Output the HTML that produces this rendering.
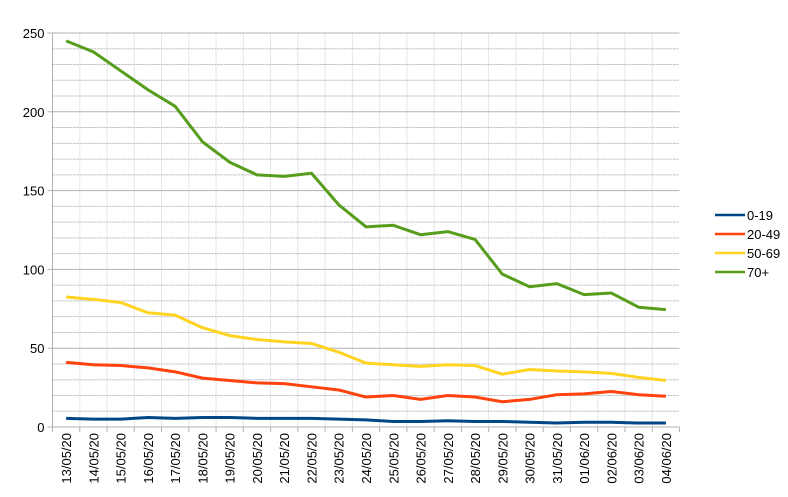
<!DOCTYPE html>
<html><head><meta charset="utf-8"><style>
body{margin:0;background:#fff;}
svg{display:block;font-family:"Liberation Sans",Arial,sans-serif;}
</style></head><body>
<svg id="s" width="788" height="497" xmlns="http://www.w3.org/2000/svg"></svg>
<script>
const s=document.getElementById('s');
const L=52.5,R=679.5,T=33,B=427,n=23,w=(R-L)/n;
const y=v=>B-v*(B-T)/250;
let h='';
for(let i=1;i<n;i++){const x=L+i*w;h+=`<line x1="${x}" y1="${T}" x2="${x}" y2="${B}" stroke="#e6e6e6" stroke-width="1"/>`;}
for(let v=10;v<250;v+=10){if(v%50)h+=`<line x1="${L}" y1="${y(v)}" x2="${R}" y2="${y(v)}" stroke="#b8b8b8" stroke-width="1" stroke-dasharray="2,1"/>`;}
for(let v=50;v<=250;v+=50){h+=`<line x1="${L}" y1="${y(v)}" x2="${R}" y2="${y(v)}" stroke="#b3b3b3" stroke-width="1"/>`;}
for(let v=0;v<=250;v+=50){h+=`<line x1="${L-5}" y1="${y(v)}" x2="${L}" y2="${y(v)}" stroke="#b3b3b3"/><text x="${L-8}" y="${y(v)+5}" font-size="13" text-anchor="end" fill="#000">${v}</text>`;}
h+=`<line x1="${L}" y1="${T}" x2="${L}" y2="${B}" stroke="#b3b3b3"/><line x1="${L}" y1="${B}" x2="${R}" y2="${B}" stroke="#b3b3b3"/>`;
const d=['13/05/20','14/05/20','15/05/20','16/05/20','17/05/20','18/05/20','19/05/20','20/05/20','21/05/20','22/05/20','23/05/20','24/05/20','25/05/20','26/05/20','27/05/20','28/05/20','29/05/20','30/05/20','31/05/20','01/06/20','02/06/20','03/06/20','04/06/20'];
for(let i=0;i<=n;i++){const x=L+i*w;h+=`<line x1="${x}" y1="${B}" x2="${x}" y2="${B+5}" stroke="#b3b3b3"/>`;}
d.forEach((t,i)=>{const x=L+(i+.5)*w+5;h+=`<text transform="translate(${x},${B+6}) rotate(-90)" font-size="13" text-anchor="end" fill="#000">${t}</text>`;});
const S=[
['#004586',[5.5,5,5,6,5.5,6,6,5.5,5.5,5.5,5,4.5,3.5,3.5,4,3.5,3.5,3,2.5,3,3,2.5,2.5]],
['#ff420e',[41,39.5,39,37.5,35,31,29.5,28,27.5,25.5,23.5,19,20,17.5,20,19,16,17.5,20.5,21,22.5,20.5,19.5]],
['#ffd320',[82.5,81,79,72.5,71,63,58,55.5,54,53,47.5,40.5,39.5,38.5,39.5,39,33.5,36.5,35.5,35,34,31.5,29.5]],
['#579d1c',[245,238,226,214,203.5,181,168,160,159,161,141,127,128,122,124,119,97,89,91,84,85,76,74.5]]];
S.forEach(([c,a])=>{h+=`<polyline fill="none" stroke="${c}" stroke-width="3" stroke-linejoin="round" points="${a.map((v,i)=>(L+(i+.5)*w)+','+y(v)).join(' ')}"/>`;});
const names=['0-19','20-49','50-69','70+'];
S.forEach(([c],i)=>{const yy=215+i*19;h+=`<line x1="715" y1="${yy}" x2="745" y2="${yy}" stroke="${c}" stroke-width="2.5"/><text x="747" y="${yy+5}" font-size="13" fill="#000">${names[i]}</text>`;});
s.innerHTML=h;
</script>
</body></html>
